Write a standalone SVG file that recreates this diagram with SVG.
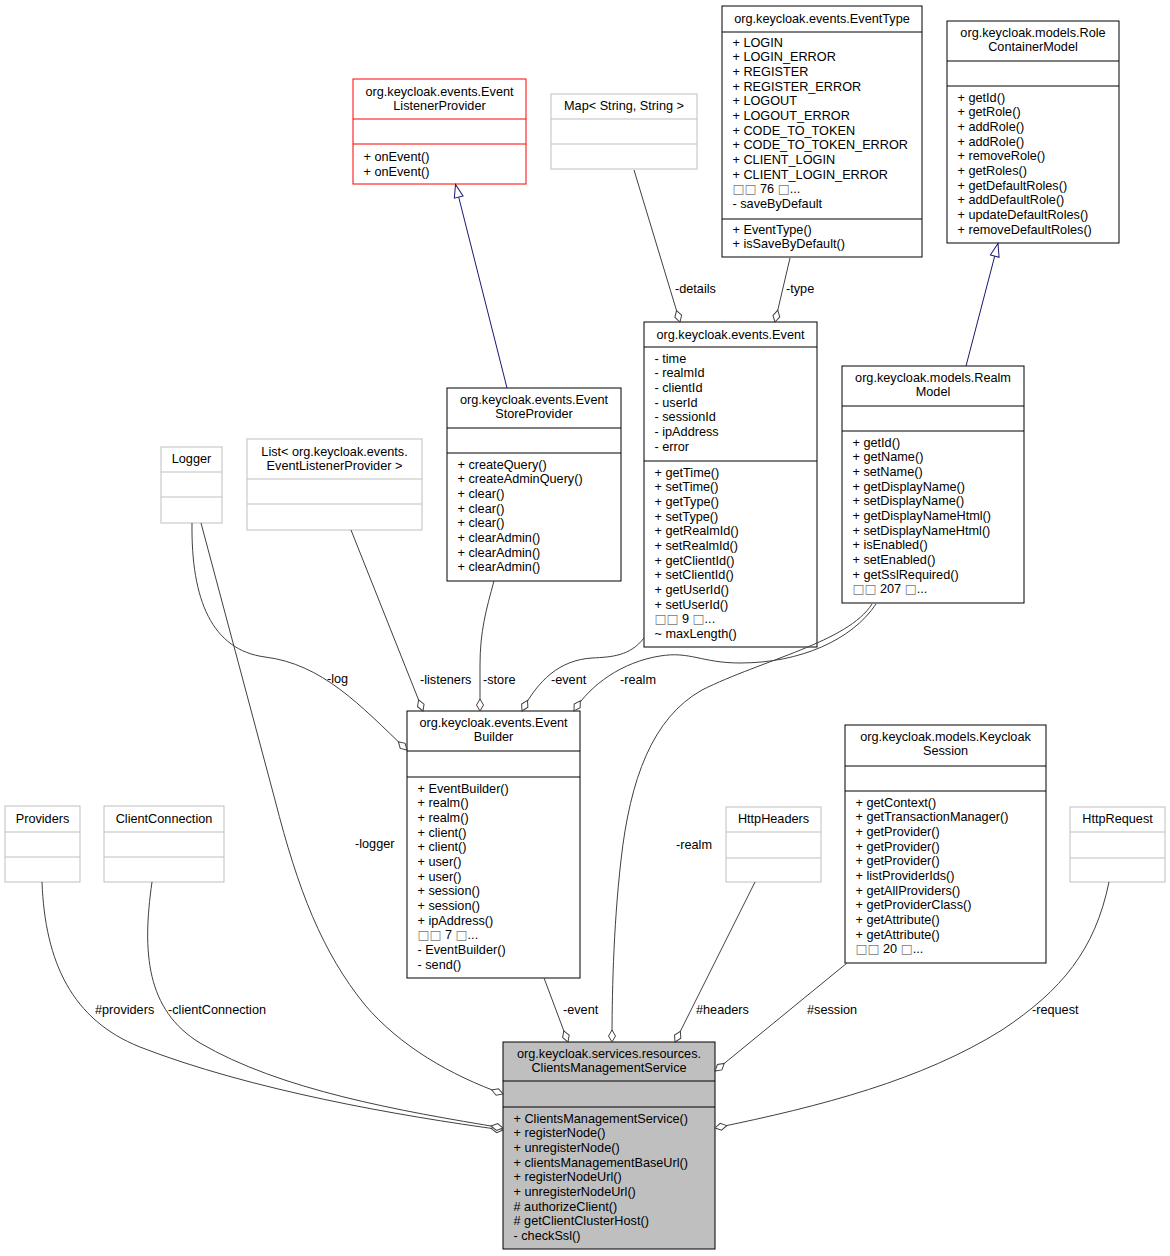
<svg xmlns="http://www.w3.org/2000/svg" width="1170" height="1256" viewBox="0 0 1170 1256">
<style>
.t{font-family:"Liberation Sans",Arial,Helvetica,sans-serif;font-size:12.7px;fill:#000}
.c{text-anchor:middle}
.q{font-family:"DejaVu Sans",sans-serif;font-size:12.7px;fill:#777}
.box{fill:#fff;stroke:#000;stroke-width:1}
.gray{fill:#fff;stroke:#bfbfbf;stroke-width:1}
.red{fill:#fff;stroke:#ff0000;stroke-width:1}
.main{fill:#bfbfbf;stroke:#000;stroke-width:1}
.dk{stroke:#000;stroke-width:1}
.dg{stroke:#bfbfbf;stroke-width:1}
.dr{stroke:#ff0000;stroke-width:1}
.e{fill:none;stroke:#404040;stroke-width:1}
.inh{fill:none;stroke:#191970;stroke-width:1}
</style>
<defs>
<marker id="dia" markerWidth="16" markerHeight="10" refX="13" refY="5" orient="auto" markerUnits="userSpaceOnUse">
<path d="M1,5 L7,1.5 L13,5 L7,8.5 Z" fill="#fff" stroke="#404040" stroke-width="1"/>
</marker>
<marker id="tri" markerWidth="16" markerHeight="12" refX="14" refY="6" orient="auto" markerUnits="userSpaceOnUse">
<path d="M1,1.5 L14,6 L1,10.5 Z" fill="#fff" stroke="#191970" stroke-width="1"/>
</marker>
</defs>
<rect width="1170" height="1256" fill="#fff"/>

<g id="EventListenerProvider">
<rect class="red" x="353" y="79" width="173" height="105"/>
<line class="dr" x1="353" y1="119" x2="526" y2="119"/>
<line class="dr" x1="353" y1="144" x2="526" y2="144"/>
<text class="t c" x="439.5" y="95.5">org.keycloak.events.Event</text>
<text class="t c" x="439.5" y="110">ListenerProvider</text>
<text class="t" x="363.5" y="161">+ onEvent()</text>
<text class="t" x="363.5" y="175.5">+ onEvent()</text>
</g>

<g id="MapStringString">
<rect class="gray" x="551" y="94" width="146" height="75"/>
<line class="dg" x1="551" y1="119" x2="697" y2="119"/>
<line class="dg" x1="551" y1="144" x2="697" y2="144"/>
<text class="t c" x="624" y="109.5">Map&lt; String, String &gt;</text>
</g>

<g id="EventType">
<rect class="box" x="722" y="6" width="200" height="251"/>
<line class="dk" x1="722" y1="32" x2="922" y2="32"/>
<line class="dk" x1="722" y1="219" x2="922" y2="219"/>
<text class="t c" x="822" y="23">org.keycloak.events.EventType</text>
<text class="t" x="732.5" y="46.5">+ LOGIN</text>
<text class="t" x="732.5" y="61.2">+ LOGIN_ERROR</text>
<text class="t" x="732.5" y="75.8">+ REGISTER</text>
<text class="t" x="732.5" y="90.5">+ REGISTER_ERROR</text>
<text class="t" x="732.5" y="105.2">+ LOGOUT</text>
<text class="t" x="732.5" y="119.8">+ LOGOUT_ERROR</text>
<text class="t" x="732.5" y="134.5">+ CODE_TO_TOKEN</text>
<text class="t" x="732.5" y="149.2">+ CODE_TO_TOKEN_ERROR</text>
<text class="t" x="732.5" y="163.9">+ CLIENT_LOGIN</text>
<text class="t" x="732.5" y="178.5">+ CLIENT_LOGIN_ERROR</text>
<text class="t" x="732.5" y="193.2"><tspan class="q">□□</tspan> 76 <tspan class="q">□</tspan>...</text>
<text class="t" x="732.5" y="207.9">- saveByDefault</text>
<text class="t" x="732.5" y="233.5">+ EventType()</text>
<text class="t" x="732.5" y="248.2">+ isSaveByDefault()</text>
</g>

<g id="RoleContainerModel">
<rect class="box" x="947" y="21" width="172" height="222"/>
<line class="dk" x1="947" y1="61" x2="1119" y2="61"/>
<line class="dk" x1="947" y1="86" x2="1119" y2="86"/>
<text class="t c" x="1033" y="37">org.keycloak.models.Role</text>
<text class="t c" x="1033" y="51">ContainerModel</text>
<text class="t" x="957.5" y="101.5">+ getId()</text>
<text class="t" x="957.5" y="116.2">+ getRole()</text>
<text class="t" x="957.5" y="130.8">+ addRole()</text>
<text class="t" x="957.5" y="145.5">+ addRole()</text>
<text class="t" x="957.5" y="160.2">+ removeRole()</text>
<text class="t" x="957.5" y="174.8">+ getRoles()</text>
<text class="t" x="957.5" y="189.5">+ getDefaultRoles()</text>
<text class="t" x="957.5" y="204.2">+ addDefaultRole()</text>
<text class="t" x="957.5" y="218.9">+ updateDefaultRoles()</text>
<text class="t" x="957.5" y="233.5">+ removeDefaultRoles()</text>
</g>

<g id="Event">
<rect class="box" x="644" y="322" width="173" height="325"/>
<line class="dk" x1="644" y1="347" x2="817" y2="347"/>
<line class="dk" x1="644" y1="461" x2="817" y2="461"/>
<text class="t c" x="730.5" y="338.5">org.keycloak.events.Event</text>
<text class="t" x="654.5" y="362.5">- time</text>
<text class="t" x="654.5" y="377.2">- realmId</text>
<text class="t" x="654.5" y="391.8">- clientId</text>
<text class="t" x="654.5" y="406.5">- userId</text>
<text class="t" x="654.5" y="421.2">- sessionId</text>
<text class="t" x="654.5" y="435.8">- ipAddress</text>
<text class="t" x="654.5" y="450.5">- error</text>
<text class="t" x="654.5" y="476.5">+ getTime()</text>
<text class="t" x="654.5" y="491.2">+ setTime()</text>
<text class="t" x="654.5" y="505.8">+ getType()</text>
<text class="t" x="654.5" y="520.5">+ setType()</text>
<text class="t" x="654.5" y="535.2">+ getRealmId()</text>
<text class="t" x="654.5" y="549.8">+ setRealmId()</text>
<text class="t" x="654.5" y="564.5">+ getClientId()</text>
<text class="t" x="654.5" y="579.2">+ setClientId()</text>
<text class="t" x="654.5" y="593.9">+ getUserId()</text>
<text class="t" x="654.5" y="608.5">+ setUserId()</text>
<text class="t" x="654.5" y="623.2"><tspan class="q">□□</tspan> 9 <tspan class="q">□</tspan>...</text>
<text class="t" x="654.5" y="637.9">~ maxLength()</text>
</g>

<g id="RealmModel">
<rect class="box" x="842" y="366" width="182" height="237"/>
<line class="dk" x1="842" y1="406" x2="1024" y2="406"/>
<line class="dk" x1="842" y1="431" x2="1024" y2="431"/>
<text class="t c" x="933" y="381.5">org.keycloak.models.Realm</text>
<text class="t c" x="933" y="396">Model</text>
<text class="t" x="852.5" y="446.5">+ getId()</text>
<text class="t" x="852.5" y="461.2">+ getName()</text>
<text class="t" x="852.5" y="475.8">+ setName()</text>
<text class="t" x="852.5" y="490.5">+ getDisplayName()</text>
<text class="t" x="852.5" y="505.2">+ setDisplayName()</text>
<text class="t" x="852.5" y="519.8">+ getDisplayNameHtml()</text>
<text class="t" x="852.5" y="534.5">+ setDisplayNameHtml()</text>
<text class="t" x="852.5" y="549.2">+ isEnabled()</text>
<text class="t" x="852.5" y="563.9">+ setEnabled()</text>
<text class="t" x="852.5" y="578.5">+ getSslRequired()</text>
<text class="t" x="852.5" y="593.2"><tspan class="q">□□</tspan> 207 <tspan class="q">□</tspan>...</text>
</g>

<g id="EventStoreProvider">
<rect class="box" x="447" y="388" width="174" height="193"/>
<line class="dk" x1="447" y1="428" x2="621" y2="428"/>
<line class="dk" x1="447" y1="453" x2="621" y2="453"/>
<text class="t c" x="534" y="403.5">org.keycloak.events.Event</text>
<text class="t c" x="534" y="418">StoreProvider</text>
<text class="t" x="457.5" y="468.5">+ createQuery()</text>
<text class="t" x="457.5" y="483.2">+ createAdminQuery()</text>
<text class="t" x="457.5" y="497.8">+ clear()</text>
<text class="t" x="457.5" y="512.5">+ clear()</text>
<text class="t" x="457.5" y="527.2">+ clear()</text>
<text class="t" x="457.5" y="541.8">+ clearAdmin()</text>
<text class="t" x="457.5" y="556.5">+ clearAdmin()</text>
<text class="t" x="457.5" y="571.2">+ clearAdmin()</text>
</g>

<g id="Logger">
<rect class="gray" x="161" y="447" width="61" height="76"/>
<line class="dg" x1="161" y1="472" x2="222" y2="472"/>
<line class="dg" x1="161" y1="497" x2="222" y2="497"/>
<text class="t c" x="191.5" y="462.5">Logger</text>
</g>

<g id="ListEventListenerProvider">
<rect class="gray" x="247" y="439" width="175" height="91"/>
<line class="dg" x1="247" y1="479" x2="422" y2="479"/>
<line class="dg" x1="247" y1="504" x2="422" y2="504"/>
<text class="t c" x="334.5" y="455.5">List&lt; org.keycloak.events.</text>
<text class="t c" x="334.5" y="470">EventListenerProvider &gt;</text>
</g>

<g id="EventBuilder">
<rect class="box" x="407" y="711" width="173" height="267"/>
<line class="dk" x1="407" y1="751" x2="580" y2="751"/>
<line class="dk" x1="407" y1="777" x2="580" y2="777"/>
<text class="t c" x="493.5" y="726.5">org.keycloak.events.Event</text>
<text class="t c" x="493.5" y="741">Builder</text>
<text class="t" x="417.5" y="792.5">+ EventBuilder()</text>
<text class="t" x="417.5" y="807.2">+ realm()</text>
<text class="t" x="417.5" y="821.8">+ realm()</text>
<text class="t" x="417.5" y="836.5">+ client()</text>
<text class="t" x="417.5" y="851.2">+ client()</text>
<text class="t" x="417.5" y="865.8">+ user()</text>
<text class="t" x="417.5" y="880.5">+ user()</text>
<text class="t" x="417.5" y="895.2">+ session()</text>
<text class="t" x="417.5" y="909.9">+ session()</text>
<text class="t" x="417.5" y="924.5">+ ipAddress()</text>
<text class="t" x="417.5" y="939.2"><tspan class="q">□□</tspan> 7 <tspan class="q">□</tspan>...</text>
<text class="t" x="417.5" y="953.9">- EventBuilder()</text>
<text class="t" x="417.5" y="968.5">- send()</text>
</g>

<g id="HttpHeaders">
<rect class="gray" x="726" y="807" width="95" height="75"/>
<line class="dg" x1="726" y1="832" x2="821" y2="832"/>
<line class="dg" x1="726" y1="858" x2="821" y2="858"/>
<text class="t c" x="773.5" y="822.5">HttpHeaders</text>
</g>

<g id="KeycloakSession">
<rect class="box" x="845" y="725" width="201" height="238"/>
<line class="dk" x1="845" y1="766" x2="1046" y2="766"/>
<line class="dk" x1="845" y1="791" x2="1046" y2="791"/>
<text class="t c" x="945.5" y="740.5">org.keycloak.models.Keycloak</text>
<text class="t c" x="945.5" y="755">Session</text>
<text class="t" x="855.5" y="806.5">+ getContext()</text>
<text class="t" x="855.5" y="821.2">+ getTransactionManager()</text>
<text class="t" x="855.5" y="835.8">+ getProvider()</text>
<text class="t" x="855.5" y="850.5">+ getProvider()</text>
<text class="t" x="855.5" y="865.2">+ getProvider()</text>
<text class="t" x="855.5" y="879.8">+ listProviderIds()</text>
<text class="t" x="855.5" y="894.5">+ getAllProviders()</text>
<text class="t" x="855.5" y="909.2">+ getProviderClass()</text>
<text class="t" x="855.5" y="923.9">+ getAttribute()</text>
<text class="t" x="855.5" y="938.5">+ getAttribute()</text>
<text class="t" x="855.5" y="953.2"><tspan class="q">□□</tspan> 20 <tspan class="q">□</tspan>...</text>
</g>

<g id="HttpRequest">
<rect class="gray" x="1070" y="807" width="95" height="75"/>
<line class="dg" x1="1070" y1="832" x2="1165" y2="832"/>
<line class="dg" x1="1070" y1="858" x2="1165" y2="858"/>
<text class="t c" x="1117.5" y="822.5">HttpRequest</text>
</g>

<g id="Providers">
<rect class="gray" x="5" y="806" width="75" height="76"/>
<line class="dg" x1="5" y1="832" x2="80" y2="832"/>
<line class="dg" x1="5" y1="857" x2="80" y2="857"/>
<text class="t c" x="42.5" y="822.5">Providers</text>
</g>

<g id="ClientConnection">
<rect class="gray" x="104" y="806" width="120" height="76"/>
<line class="dg" x1="104" y1="832" x2="224" y2="832"/>
<line class="dg" x1="104" y1="857" x2="224" y2="857"/>
<text class="t c" x="164" y="822.5">ClientConnection</text>
</g>

<g id="ClientsManagementService">
<rect class="main" x="503" y="1042" width="212" height="207"/>
<line class="dk" x1="503" y1="1081" x2="715" y2="1081"/>
<line class="dk" x1="503" y1="1107" x2="715" y2="1107"/>
<text class="t c" x="609" y="1057.5">org.keycloak.services.resources.</text>
<text class="t c" x="609" y="1072">ClientsManagementService</text>
<text class="t" x="513.5" y="1122.5">+ ClientsManagementService()</text>
<text class="t" x="513.5" y="1137.2">+ registerNode()</text>
<text class="t" x="513.5" y="1151.8">+ unregisterNode()</text>
<text class="t" x="513.5" y="1166.5">+ clientsManagementBaseUrl()</text>
<text class="t" x="513.5" y="1181.2">+ registerNodeUrl()</text>
<text class="t" x="513.5" y="1195.8">+ unregisterNodeUrl()</text>
<text class="t" x="513.5" y="1210.5"># authorizeClient()</text>
<text class="t" x="513.5" y="1225.2"># getClientClusterHost()</text>
<text class="t" x="513.5" y="1239.9">- checkSsl()</text>
</g>

<g id="connectors">
<path class="inh" d="M507,388 L455.5,184.5" marker-end="url(#tri)"/>
<path class="inh" d="M966,366 L998,243.5" marker-end="url(#tri)"/>

<path class="e" d="M634,170 L680,322" marker-end="url(#dia)"/>
<text class="t" x="675" y="292.5">-details</text>
<path class="e" d="M790,258 L775,322" marker-end="url(#dia)"/>
<text class="t" x="786" y="292.5">-type</text>

<path class="e" d="M192,523 C191,600 212,650 265,657 C322,664 360,705 407,750" marker-end="url(#dia)"/>
<text class="t" x="327" y="683">-log</text>
<path class="e" d="M351,530 L423,711" marker-end="url(#dia)"/>
<text class="t" x="420" y="683.5">-listeners</text>
<path class="e" d="M494,581 C486,610 480,632 480,665 L480,711" marker-end="url(#dia)"/>
<text class="t" x="483" y="683.5">-store</text>
<path class="e" d="M644,638 C630,656 612,657 592,658 C560,660 538,680 522,711" marker-end="url(#dia)"/>
<text class="t" x="551" y="683.5">-event</text>
<path class="e" d="M876,604 C852,640 800,663 740,663 C702,663 690,651 660,656 C622,662 590,685 574,711" marker-end="url(#dia)"/>
<text class="t" x="620" y="683.5">-realm</text>

<path class="e" d="M201,523 L275,800 C298,890 322,952 365,1005 C400,1046 450,1075 503,1094" marker-end="url(#dia)"/>
<text class="t" x="355" y="847.5">-logger</text>
<path class="e" d="M872,604 C848,642 762,660 702,690 C652,718 630,780 621,860 C613,930 612,1000 612,1042" marker-end="url(#dia)"/>
<text class="t" x="676" y="848.5">-realm</text>

<path class="e" d="M544,978 L568,1042" marker-end="url(#dia)"/>
<text class="t" x="563" y="1013.5">-event</text>
<path class="e" d="M755,882 L675,1042" marker-end="url(#dia)"/>
<text class="t" x="696" y="1013.5">#headers</text>
<path class="e" d="M847,963 L715,1071" marker-end="url(#dia)"/>
<text class="t" x="807" y="1013.5">#session</text>
<path class="e" d="M1109,882 C1095,950 1062,990 1002,1030 C922,1080 822,1106 715,1128" marker-end="url(#dia)"/>
<text class="t" x="1032" y="1013.5">-request</text>
<path class="e" d="M42,882 C45,962 72,1020 140,1047 C250,1090 400,1116 503,1130" marker-end="url(#dia)"/>
<text class="t" x="95" y="1013.5">#providers</text>
<path class="e" d="M152,882 C142,952 146,1010 200,1043 C280,1090 400,1111 503,1128" marker-end="url(#dia)"/>
<text class="t" x="168" y="1013.5">-clientConnection</text>
</g>
</svg>
